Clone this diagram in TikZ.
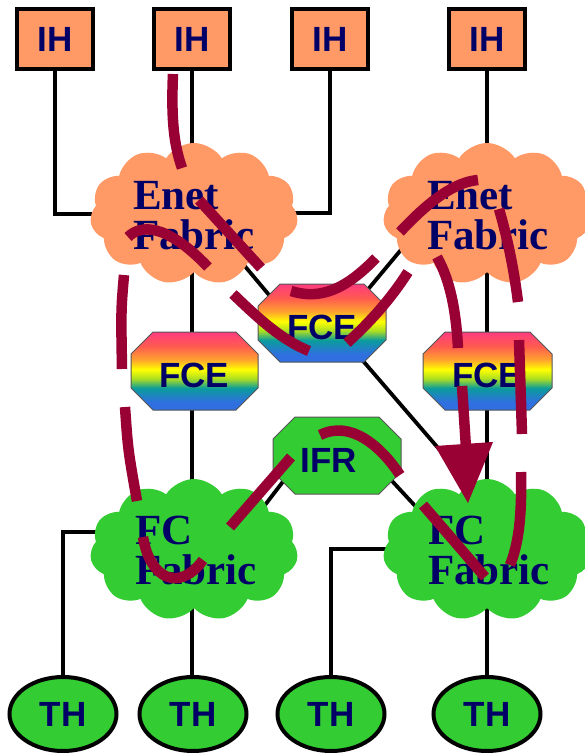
\documentclass[tikz,border=0pt]{standalone}
\usepackage{fontspec}
\newfontfamily\lblfont{Liberation Sans}
\newfontfamily\fabfont{Liberation Serif}
\usetikzlibrary{shapes.symbols,shapes.geometric}
\definecolor{ihorange}{HTML}{FF9966}
\definecolor{fcgreen}{HTML}{33CC33}
\definecolor{navy}{HTML}{000066}
\definecolor{traffic}{HTML}{990033}
\definecolor{edgegray}{HTML}{555555}
\definecolor{rbA}{HTML}{2F6FE0}
\definecolor{rbB}{HTML}{0A9C9C}
\definecolor{rbC}{HTML}{AADD22}
\definecolor{rbD}{HTML}{FFFF00}
\definecolor{rbE}{HTML}{FFA030}
\definecolor{rbF}{HTML}{FF5A50}
\definecolor{rbG}{HTML}{FF3C80}
\pgfdeclareverticalshading{rainbow}{100bp}{color(0bp)=(rbA); color(25bp)=(rbA); color(30bp)=(rbA); color(39bp)=(rbB); color(45bp)=(rbC); color(51bp)=(rbD); color(57.5bp)=(rbE); color(66bp)=(rbF); color(75bp)=(rbG); color(100bp)=(rbG)}
% octagon: cx, cy, w, h, chamfer, style
\newcommand\octshape[6]{%
  \path[#6] ({#1-#3/2+#5},{#2-#4/2}) -- ({#1+#3/2-#5},{#2-#4/2}) -- ({#1+#3/2},{#2-#4/2+#5})
    -- ({#1+#3/2},{#2+#4/2-#5}) -- ({#1+#3/2-#5},{#2+#4/2}) -- ({#1-#3/2+#5},{#2+#4/2})
    -- ({#1-#3/2},{#2+#4/2-#5}) -- ({#1-#3/2},{#2-#4/2+#5}) -- cycle;}
\tikzset{
  wire/.style={draw=black, line width=3.8pt},
  ihbox/.style={rectangle, draw=black, line width=4pt, fill=ihorange, minimum width=76pt, minimum height=60pt, inner sep=0pt,
     font=\lblfont\bfseries\fontsize{35}{40}\selectfont, text=navy},
  thnode/.style={ellipse, draw=black, line width=4pt, fill=fcgreen, minimum width=107pt, minimum height=74pt, inner sep=0pt,
     font=\lblfont\bfseries\fontsize{35}{40}\selectfont, text=navy},
  octlabel/.style={inner sep=0pt, font=\lblfont\bfseries\fontsize{35}{40}\selectfont, text=navy},
  fcefill/.style={shading=rainbow, draw=edgegray, line width=1pt},
  ifrfill/.style={fill=fcgreen, draw=edgegray, line width=1pt},
  puff/.style={cloud, cloud puffs=11, cloud puff arc=115, minimum width=208pt, minimum height=142pt, inner sep=0pt, draw=none},
  fabtext/.style={font=\fabfont\bfseries\fontsize{43}{40}\selectfont, text=navy, align=left, inner sep=0pt, anchor=north west},
  path/.style={draw=traffic, line width=10.5pt, line cap=butt},
}
\begin{document}
\begin{tikzpicture}[x=1pt, y=-1pt]
\useasboundingbox (0,0) rectangle (585,753);
% centres
\coordinate (ih1c) at (55,39);
\coordinate (ih2c) at (192,39);
\coordinate (ih3c) at (330,39);
\coordinate (ih4c) at (487,39);
\coordinate (th1c) at (63,714);
\coordinate (th2c) at (193,714);
\coordinate (th3c) at (331,714);
\coordinate (th4c) at (487,714);
\coordinate (pEL) at (194,214);
\coordinate (pER) at (487,214);
\coordinate (pFL) at (194,550);
\coordinate (pFR) at (487,550);
\coordinate (flw) at (110,532);
\coordinate (frw) at (400,549);
\coordinate (ih3w) at (290,213);
% black connectors (behind)
\draw[wire] (ih1c) |- (pEL);
\draw[wire] (ih3c) |- (ih3w);
\draw[wire] (ih2c) -- (ih2c |- th2c);
\draw[wire] (ih4c) -- (th4c);
\draw[wire] (th1c) |- (flw);
\draw[wire] (th3c) |- (frw);
\coordinate (d1a) at (233,252); \coordinate (d1b) at (285,314);
\coordinate (d2a) at (360,299); \coordinate (d2b) at (405,245);
\coordinate (d3a) at (345,340); \coordinate (d3b) at (470,485);
\coordinate (d4a) at (295,466); \coordinate (d4b) at (255,518);
\coordinate (d5a) at (380,468); \coordinate (d5b) at (430,522);
\draw[wire] (d1a) -- (d1b);
\draw[wire] (d2a) -- (d2b);
\draw[wire] (d3a) -- (d3b);
\draw[wire] (d4a) -- (d4b);
\draw[wire] (d5a) -- (d5b);
% clouds
\node[puff, fill=ihorange] (enetL) at (pEL) {};
\node[puff, fill=ihorange] (enetR) at (pER) {};
\node[puff, fill=fcgreen] (fcL) at (pFL) {};
\node[puff, fill=fcgreen] (fcR) at (pFR) {};
\node[fabtext] (enetLt) at (133,181) {Enet\\Fabric};
\node[fabtext] (enetRt) at (427,181) {Enet\\Fabric};
\node[fabtext] (fcLt) at (135,516) {FC\\Fabric};
\node[fabtext] (fcRt) at (428,516) {FC\\Fabric};
% octagons
\octshape{322}{323}{128}{78}{22}{fcefill}
\octshape{194.5}{371}{127}{78}{22}{fcefill}
\octshape{487.5}{371}{129}{78}{22}{fcefill}
\octshape{337}{455.5}{128}{77}{22}{ifrfill}
\node[octlabel] (fceC) at (322,327) {FCE};
\node[octlabel] (fceL) at (194,375.5) {FCE};
\node[octlabel] (fceR) at (487,375.5) {FCE};
\node[octlabel] (ifr) at (329,460.5) {IFR};
% hosts
\node[ihbox] (ih1) at (ih1c) {IH};
\node[ihbox] (ih2) at (ih2c) {IH};
\node[ihbox] (ih3) at (ih3c) {IH};
\node[ihbox] (ih4) at (ih4c) {IH};
\node[thnode] (th1) at (th1c) {TH};
\node[thnode] (th2) at (th2c) {TH};
\node[thnode] (th3) at (th3c) {TH};
\node[thnode] (th4) at (th4c) {TH};
% traffic paths
\draw[path] (173,74) .. controls (171,120) and (174,145) .. (182,168);
\draw[path] (199,200) -- (261,268);
\draw[path] (291,291) .. controls (320,300) and (345,290) .. (376,258);
\draw[path] (400,232) .. controls (430,200) and (455,182) .. (478,180);
\draw[path] (437,257) .. controls (450,280) and (456,310) .. (458,348);
\draw[path] (462,386) -- (466,448);
\fill[traffic] (435,446) -- (493,442) -- (468,503) -- cycle;
\draw[path] (128,237) .. controls (140,225) and (165,222) .. (208,267);
\draw[path] (233,294) .. controls (260,320) and (282,340) .. (309,351);
\draw[path] (347,343) .. controls (370,322) and (390,300) .. (408,272);
\draw[path] (499,209) .. controls (508,240) and (514,270) .. (518,302);
\draw[path] (519,340) -- (522,434);
\draw[path] (521,472) .. controls (522,520) and (518,545) .. (510,565);
\draw[path] (124,275) .. controls (121,310) .. (122,369);
\draw[path] (125,407) .. controls (128,450) .. (137,501);
\draw[path] (143,537) .. controls (150,580) and (180,592) .. (203,560);
\draw[path] (230,527) -- (291,457);
\draw[path] (320,435) .. controls (350,420) and (380,445) .. (400,475);
\draw[path] (423,505) -- (485,577);
\end{tikzpicture}
\end{document}
